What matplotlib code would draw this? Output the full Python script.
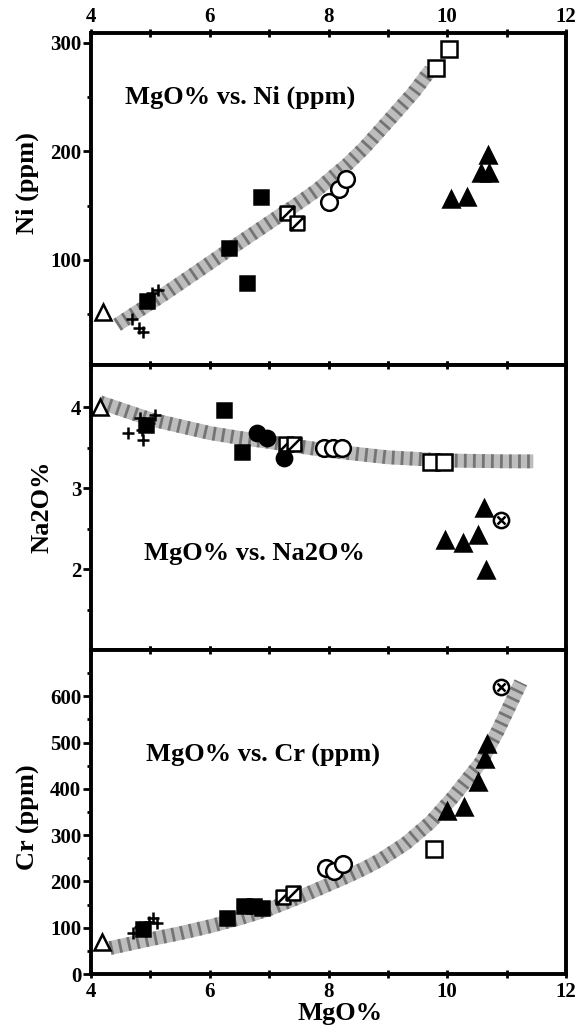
import matplotlib
matplotlib.use('Agg')
import matplotlib.pyplot as plt
from matplotlib.path import Path

plt.rcParams['font.family'] = ['Liberation Serif', 'DejaVu Serif']
plt.rcParams['font.weight'] = 'bold'

# ---------------- data ----------------
# Ni panel
ni_trend_mgo = [4.44, 5.28, 6.4, 7.24, 7.41, 7.8, 8.32, 8.6, 8.88, 9.43, 9.72]
ni_trend = [40, 70, 112, 143, 149, 164, 188, 203, 220, 254, 275]
ni_otri_mgo, ni_otri = [4.2], [52]
ni_cross_mgo, ni_cross = [4.69, 4.8, 4.88, 5.03, 5.13], [45, 37, 33, 69, 72]
ni_fsq_mgo, ni_fsq = [4.95, 6.32, 6.63, 6.87], [62, 111, 79, 158]
ni_hsq_mgo, ni_hsq = [7.3, 7.47], [143, 134]
ni_ocirc_mgo, ni_ocirc = [8.0, 8.17, 8.3], [153, 165, 174]
ni_osq_mgo, ni_osq = [9.81, 10.03], [277, 294]
ni_ftri_mgo, ni_ftri = [10.06, 10.34, 10.57, 10.70, 10.68], [156, 158, 180, 180, 197]

# Na2O panel
na_trend_mgo = [4.15, 5.0, 6.0, 6.5, 7.0, 8.0, 9.0, 10.0, 11.0, 11.45]
na_trend = [4.06, 3.85, 3.68, 3.62, 3.57, 3.46, 3.38, 3.34, 3.33, 3.33]
na_otri_mgo, na_otri = [4.15], [4.0]
na_cross_mgo = [4.63, 4.83, 4.88, 5.08, 4.97, 4.86]
na_cross = [3.68, 3.86, 3.59, 3.90, 3.80, 3.72]
na_fsq_mgo, na_fsq = [4.93, 6.24, 6.55], [3.78, 3.96, 3.44]
na_fcirc_mgo, na_fcirc = [6.80, 6.97, 7.25], [3.68, 3.62, 3.37]
na_hsq_mgo, na_hsq = [7.28, 7.42], [3.55, 3.55]
na_ocirc_mgo, na_ocirc = [7.92, 8.08, 8.22], [3.49, 3.49, 3.49]
na_osq_mgo, na_osq = [9.72, 9.94], [3.32, 3.32]
na_ftri_mgo, na_ftri = [9.97, 10.26, 10.52, 10.62, 10.65], [2.36, 2.32, 2.42, 2.75, 1.99]
na_otimes_mgo, na_otimes = [10.9], [2.6]

# Cr panel
cr_trend_mgo = [4.32, 5.0, 5.5, 6.0, 6.5, 7.0, 7.53, 8.32, 8.6, 8.88, 9.3, 9.72,
                10.11, 10.57, 10.85, 11.24]
cr_trend = [56, 75, 88, 103, 120, 140, 167, 211, 228, 247, 282, 328,
            384, 458, 525, 630]
cr_otri_mgo, cr_otri = [4.18], [70]
cr_cross_mgo, cr_cross = [4.71, 4.83, 4.97, 5.11, 5.05], [89, 102, 113, 110, 122]
cr_fsq_mgo, cr_fsq = [4.88, 6.29, 6.57, 6.74, 6.88], [98, 122, 146, 146, 143]
cr_hsq_mgo, cr_hsq = [7.24, 7.41], [167, 176]
cr_ocirc_mgo, cr_ocirc = [7.95, 8.09, 8.25], [230, 222, 237]
cr_osq_mgo, cr_osq = [9.77], [269]
cr_ftri_mgo, cr_ftri = [10.0, 10.28, 10.52, 10.63, 10.67], [352, 360, 415, 465, 497]
cr_otimes_mgo, cr_otimes = [10.9], [621]

# square with a diagonal
half_sq = Path([(-1, -1), (1, -1), (1, 1), (-1, 1), (-1, -1), (-1, -1), (1, 1)],
               [Path.MOVETO, Path.LINETO, Path.LINETO, Path.LINETO, Path.CLOSEPOLY,
                Path.MOVETO, Path.LINETO])


def band(ax, x, y):
    # stippled grey trend band
    ax.plot(x, y, color='#bdbdbd', lw=10, solid_capstyle='butt', zorder=1)
    ax.plot(x, y, color='#555555', lw=10, ls=(0, (0.2, 0.45)), alpha=0.7, zorder=1.1)


def pts(ax, x, y, kind):
    k = dict(ls='none', mec='black', mew=1.8, zorder=3)
    if kind == 'otri':
        ax.plot(x, y, '^', ms=11, mfc='white', **k)
    elif kind == 'ftri':
        ax.plot(x, y, '^', ms=12, mfc='black', **k)
    elif kind == 'cross':
        ax.plot(x, y, '+', ms=9, **k)
    elif kind == 'fsq':
        ax.plot(x, y, 's', ms=10, mfc='black', **k)
    elif kind == 'osq':
        ax.plot(x, y, 's', ms=11, mfc='white', **k)
    elif kind == 'hsq':
        ax.plot(x, y, marker=half_sq, ms=10, mfc='white', **k)
    elif kind == 'ocirc':
        ax.plot(x, y, 'o', ms=12, mfc='white', **k)
    elif kind == 'fcirc':
        ax.plot(x, y, 'o', ms=11, mfc='black', **k)
    elif kind == 'otimes':
        ax.plot(x, y, 'o', ms=11, mfc='white', **k)
        ax.plot(x, y, 'x', ms=6, **k)


fig = plt.figure(figsize=(5.78, 10.35), dpi=100)
L, W = 91 / 578, 475 / 578
ax1 = fig.add_axes([L, 1 - 365 / 1035, W, 332 / 1035])
ax2 = fig.add_axes([L, 1 - 650 / 1035, W, 285 / 1035])
ax3 = fig.add_axes([L, 1 - 974 / 1035, W, 324 / 1035])

band(ax1, ni_trend_mgo, ni_trend)
pts(ax1, ni_otri_mgo, ni_otri, 'otri')
pts(ax1, ni_cross_mgo, ni_cross, 'cross')
pts(ax1, ni_fsq_mgo, ni_fsq, 'fsq')
pts(ax1, ni_hsq_mgo, ni_hsq, 'hsq')
pts(ax1, ni_ocirc_mgo, ni_ocirc, 'ocirc')
pts(ax1, ni_osq_mgo, ni_osq, 'osq')
pts(ax1, ni_ftri_mgo, ni_ftri, 'ftri')

band(ax2, na_trend_mgo, na_trend)
pts(ax2, na_otri_mgo, na_otri, 'otri')
pts(ax2, na_cross_mgo, na_cross, 'cross')
pts(ax2, na_fsq_mgo, na_fsq, 'fsq')
pts(ax2, na_fcirc_mgo, na_fcirc, 'fcirc')
pts(ax2, na_hsq_mgo, na_hsq, 'hsq')
pts(ax2, na_ocirc_mgo, na_ocirc, 'ocirc')
pts(ax2, na_osq_mgo, na_osq, 'osq')
pts(ax2, na_ftri_mgo, na_ftri, 'ftri')
pts(ax2, na_otimes_mgo, na_otimes, 'otimes')

band(ax3, cr_trend_mgo, cr_trend)
pts(ax3, cr_otri_mgo, cr_otri, 'otri')
pts(ax3, cr_cross_mgo, cr_cross, 'cross')
pts(ax3, cr_fsq_mgo, cr_fsq, 'fsq')
pts(ax3, cr_hsq_mgo, cr_hsq, 'hsq')
pts(ax3, cr_ocirc_mgo, cr_ocirc, 'ocirc')
pts(ax3, cr_osq_mgo, cr_osq, 'osq')
pts(ax3, cr_ftri_mgo, cr_ftri, 'ftri')
pts(ax3, cr_otimes_mgo, cr_otimes, 'otimes')

ax1.set_ylim(3, 309)
ax1.set_yticks([100, 200, 300])
ax1.set_yticks([50, 150, 250], minor=True)
ax2.set_ylim(1.0, 4.52)
ax2.set_yticks([2, 3, 4])
ax2.set_yticks([1.5, 2.5, 3.5], minor=True)
ax3.set_ylim(0, 700)
ax3.set_yticks([0, 100, 200, 300, 400, 500, 600])
ax3.set_yticks([50, 150, 250, 350, 450, 550, 650], minor=True)

for ax in (ax1, ax2, ax3):
    ax.set_xlim(4, 12)
    ax.set_xticks([4, 6, 8, 10, 12])
    ax.set_xticks([5, 7, 9, 11], minor=True)
    for s in ax.spines.values():
        s.set_linewidth(2.8)
    ax.tick_params(axis='x', which='both', top=True, bottom=True, direction='inout',
                   length=6, width=2, labelbottom=False, labeltop=False, labelsize=15, pad=3)
    ax.tick_params(axis='y', which='major', direction='out', length=6, width=2,
                   labelsize=15, pad=1)
    ax.tick_params(axis='y', which='minor', direction='out', length=3, width=2)

ax1.tick_params(axis='x', labeltop=True, pad=1)
ax3.tick_params(axis='x', labelbottom=True)

ax1.text(0.314, 0.807, 'MgO% vs. Ni (ppm)', transform=ax1.transAxes,
         ha='center', va='center', fontsize=19)
ax2.text(0.345, 0.34, 'MgO% vs. Na2O%', transform=ax2.transAxes,
         ha='center', va='center', fontsize=19)
ax3.text(0.362, 0.676, 'MgO% vs. Cr (ppm)', transform=ax3.transAxes,
         ha='center', va='center', fontsize=19)

fig.text(27 / 578, 1 - 183 / 1035, 'Ni (ppm)', rotation=90, ha='center', va='center', fontsize=19)
fig.text(42 / 578, 1 - 507 / 1035, 'Na2O%', rotation=90, ha='center', va='center', fontsize=19)
fig.text(28 / 578, 1 - 817 / 1035, 'Cr (ppm)', rotation=90, ha='center', va='center', fontsize=19)
fig.text(340 / 578, 1 - 1020 / 1035, 'MgO%', ha='center', va='baseline', fontsize=19)

fig.savefig('out.png', dpi=100)
